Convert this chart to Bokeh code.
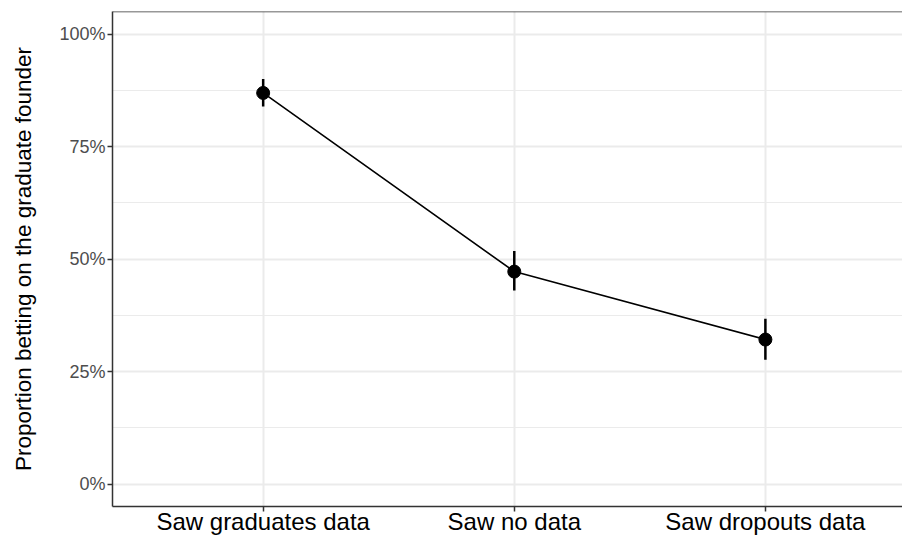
from bokeh.plotting import figure
from bokeh.models import Range1d, FixedTicker, Span, ColumnDataSource
from bokeh.embed import file_html
from bokeh.resources import INLINE

# ---- data ----
categories = ["Saw graduates data", "Saw no data", "Saw dropouts data"]
proportion = [0.869, 0.472, 0.321]
lower = [0.839, 0.430, 0.276]
upper = [0.900, 0.518, 0.367]
y_ticks = [0, 0.25, 0.5, 0.75, 1.0]
y_minor_ticks = [0.125, 0.375, 0.625, 0.875]
y_tick_labels = ["0%", "25%", "50%", "75%", "100%"]
y_title = "Proportion betting on the graduate founder"

xpos = [i + 1 for i in range(len(categories))]
src = ColumnDataSource(dict(x=xpos, y=proportion, lo=lower, hi=upper))

FONT = "Liberation Sans"
DARK = "#333333"
GRID = "#EBEBEB"

p = figure(width=902, height=537, output_backend="svg", toolbar_location=None,
           x_range=Range1d(0.4, 3.546), y_range=Range1d(-0.05, 1.05),
           min_border_left=112, min_border_right=0, min_border_top=11,
           min_border_bottom=30)
p.outline_line_color = None
p.background_fill_color = "white"
p.border_fill_color = "white"

# x axis
p.xaxis.ticker = FixedTicker(ticks=xpos)
p.xaxis.major_label_overrides = {x: c for x, c in zip(xpos, categories)}
p.xaxis.major_label_text_font = FONT
p.xaxis.major_label_text_font_size = "24px"
p.xaxis.major_label_text_color = "black"
p.xaxis.major_label_standoff = -4
p.xaxis.axis_line_color = DARK
p.xaxis.axis_line_width = 1.5
p.xaxis.major_tick_line_color = DARK
p.xaxis.major_tick_line_width = 1.5
p.xaxis.major_tick_out = 5
p.xaxis.major_tick_in = 0
p.xaxis.minor_tick_line_color = None

# y axis
p.yaxis.ticker = FixedTicker(ticks=y_ticks, minor_ticks=y_minor_ticks)
p.yaxis.major_label_overrides = {t: l for t, l in zip(y_ticks, y_tick_labels)}
p.yaxis.major_label_text_font = FONT
p.yaxis.major_label_text_font_size = "18px"
p.yaxis.major_label_text_color = "#4D4D4D"
p.yaxis.major_label_standoff = 2
p.yaxis.axis_line_color = DARK
p.yaxis.axis_line_width = 1.5
p.yaxis.major_tick_line_color = DARK
p.yaxis.major_tick_line_width = 1.5
p.yaxis.major_tick_out = 5
p.yaxis.major_tick_in = 0
p.yaxis.minor_tick_line_color = None
p.yaxis.axis_label = y_title
p.yaxis.axis_label_text_font = FONT
p.yaxis.axis_label_text_font_size = "22.5px"
p.yaxis.axis_label_text_font_style = "normal"
p.yaxis.axis_label_text_color = "black"
p.yaxis.axis_label_standoff = 20

# grid
p.xgrid.grid_line_color = GRID
p.xgrid.grid_line_width = 2
p.ygrid.grid_line_color = GRID
p.ygrid.grid_line_width = 2
p.ygrid.minor_grid_line_color = GRID
p.ygrid.minor_grid_line_width = 1

# top border of panel
p.add_layout(Span(location=1.05, dimension="width", line_color=DARK, line_width=1.5))

# marks
p.line("x", "y", source=src, line_color="black", line_width=1.6)
p.segment(x0="x", y0="lo", x1="x", y1="hi", source=src, line_color="black", line_width=2.5)
p.scatter("x", "y", source=src, size=13, fill_color="black", line_color="black")

open("out.html", "w").write(file_html(p, INLINE))
